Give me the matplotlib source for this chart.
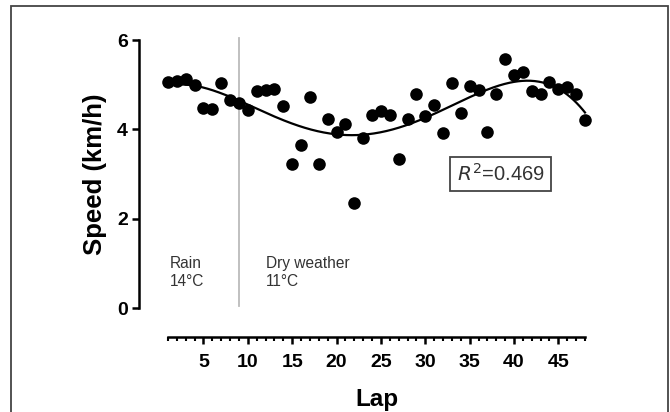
import numpy as np
import matplotlib
matplotlib.use("Agg")
import matplotlib.pyplot as plt
from matplotlib.patches import Rectangle

plt.rcParams['font.family'] = ['Liberation Sans', 'DejaVu Sans']

laps = np.arange(1, 49)
speed = [5.06, 5.09, 5.12, 4.99, 4.48, 4.45, 5.03, 4.65, 4.59, 4.43,
         4.86, 4.88, 4.90, 4.52, 3.23, 3.64, 4.73, 3.23, 4.24, 3.94,
         4.13, 2.34, 3.81, 4.31, 4.40, 4.31, 3.34, 4.24, 4.80, 4.30,
         4.55, 3.92, 5.04, 4.37, 4.97, 4.88, 3.94, 4.80, 5.57, 5.21,
         5.29, 4.85, 4.78, 5.05, 4.91, 4.94, 4.78, 4.20]
fit_degree = 4
weather_change_lap = 9
xticks = [5, 10, 15, 20, 25, 30, 35, 40, 45]
yticks = [0, 2, 4, 6]
r2_label = r"$\it{R}^{2}$=0.469"

fig = plt.figure(figsize=(6.7, 4.12), dpi=100)
# figure border
fig.patches.append(Rectangle((0.0164, -0.02), 0.9806, 1.0054, transform=fig.transFigure,
                             fill=False, edgecolor='#444444', linewidth=1.3))

ax = fig.add_axes([0.2507, 0.2524, 0.6224, 0.6505])
y = np.array(speed)
p = np.polyfit(laps, y, fit_degree)
xs = np.linspace(laps.min(), laps.max(), 400)
ax.plot(xs, np.polyval(p, xs), color='black', linewidth=1.6, zorder=3, clip_on=False)
ax.scatter(laps, speed, s=82, color='black', zorder=4, clip_on=False, linewidths=0)

ax.plot([weather_change_lap, weather_change_lap], [0.05, 6.05], color='#bbbbbb',
        linewidth=1.3, zorder=1, clip_on=False)

ax.text(1.25, 0.42, "Rain\n14°C", fontsize=11.2, color='#333333', va='bottom',
        ha='left', linespacing=1.3)
ax.text(12.0, 0.42, "Dry weather\n11°C", fontsize=11.2, color='#333333', va='bottom',
        ha='left', linespacing=1.3)

ax.text(38.5, 3.0, r2_label, fontsize=14.5, color='#333333', ha='center', va='center',
        bbox=dict(boxstyle='square,pad=0.32', facecolor='white', edgecolor='#444444',
                  linewidth=1.3))

ax.set_xlim(1, 48)
ax.set_ylim(0, 6)
for s in ['top', 'right']:
    ax.spines[s].set_visible(False)
ax.spines['left'].set_position(('outward', 21))
ax.spines['bottom'].set_position(('outward', 21))
ax.spines['left'].set_linewidth(1.8)
ax.spines['bottom'].set_linewidth(1.8)
ax.spines['left'].set_bounds(0, 6)
ax.spines['bottom'].set_bounds(1, 48)

ax.set_xticks(xticks)
ax.set_xticks(laps, minor=True)
ax.set_yticks(yticks)
ax.tick_params(axis='both', which='major', length=5, width=1.8, labelsize=14,
               pad=3)
ax.tick_params(axis='x', which='minor', length=3, width=1.5)
ax.tick_params(axis='x', which='major', pad=7)
for lab in ax.get_xticklabels() + ax.get_yticklabels():
    lab.set_fontweight('bold')

ax.set_xlabel("Lap", fontsize=17.5, fontweight='bold', labelpad=12)
ax.set_ylabel("Speed (km/h)", fontsize=18.5, fontweight='bold', labelpad=7)

fig.savefig("out.png", dpi=100)
